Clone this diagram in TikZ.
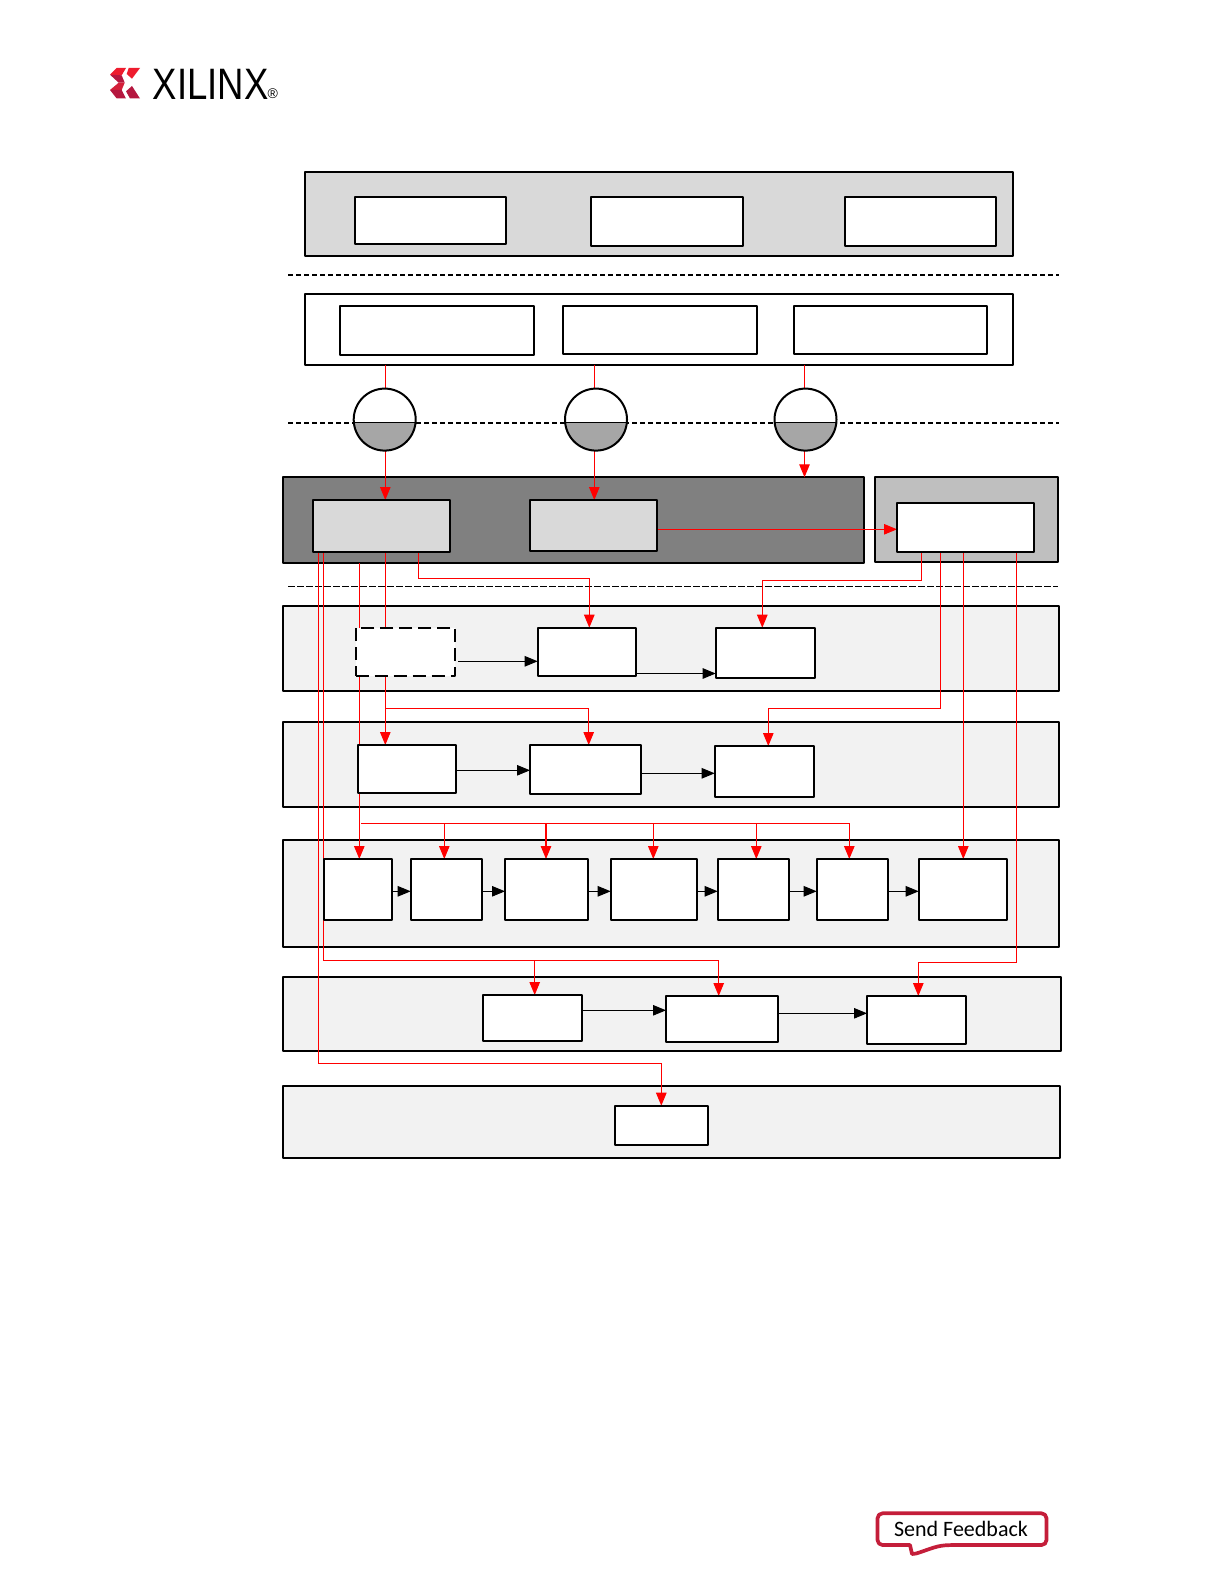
\documentclass[tikz,border=0pt]{standalone}
\usepackage{fontspec}
\usepackage{graphicx}
\setmainfont{Liberation Sans}
\newfontfamily\carlito{Carlito}
\usetikzlibrary{arrows.meta}
\pgfdeclarelayer{panels}
\pgfdeclarelayer{wires}
\pgfsetlayers{panels,wires,main}
\definecolor{panelgray}{HTML}{F2F2F2}
\definecolor{topgray}{HTML}{D9D9D9}
\definecolor{darkgray}{HTML}{808080}
\definecolor{midgray}{HTML}{BFBFBF}
\definecolor{halfgray}{HTML}{A6A6A6}
\definecolor{wirered}{HTML}{FF0000}
\definecolor{fbred}{HTML}{C41E3A}
\definecolor{logobright}{HTML}{EE1C2E}
\definecolor{logodark}{HTML}{B5173F}
\definecolor{logomid}{HTML}{D4203A}
\tikzset{
  x=1pt, y=-1pt,
  blk/.style={draw=black, line width=2pt, outer sep=0pt, inner sep=0pt, rectangle, line join=round},
  whitebox/.style={blk, fill=white},
  lightbox/.style={blk, fill=topgray},
  dashbox/.style={blk, fill=white, dash pattern=on 13pt off 6pt},
  panelbox/.style={blk, fill=panelgray},
  toppanel/.style={blk, fill=topgray},
  darkpanel/.style={blk, fill=darkgray},
  midpanel/.style={blk, fill=midgray},
  redwire/.style={draw=wirered, line width=1.05pt},
  redarrow/.style={redwire, -{Triangle[length=13pt,width=10.5pt]}},
  blkarrow/.style={draw=black, line width=1pt, -{Triangle[length=13pt,width=10.5pt]}},
  sepline/.style={draw=black, line width=1.8pt, dash pattern=on 5pt off 3pt},
  thinsep/.style={draw=black, line width=1.1pt, dash pattern=on 6.5pt off 2.5pt},
  halfcircle/.style={circle, draw=black, line width=2pt, fill=white, minimum size=62pt, inner sep=0pt, outer sep=0pt,
    path picture={
      \fill[halfgray] ([yshift=-2.7pt]path picture bounding box.west) rectangle ([yshift=-40pt]path picture bounding box.east);
      \draw[black, line width=1.2pt] ([yshift=-2.7pt]path picture bounding box.west) -- ([yshift=-2.7pt]path picture bounding box.east);
    }},
}
% style, name, x1, y1, x2, y2
\newcommand{\rbox}[6]{%
  \pgfmathsetmacro{\rbw}{#5-#3}\pgfmathsetmacro{\rbh}{#6-#4}%
  \pgfmathsetmacro{\rbx}{(#3+#5)/2}\pgfmathsetmacro{\rby}{(#4+#6)/2}%
  \node[#1, minimum width=\rbw pt, minimum height=\rbh pt] (#2) at (\rbx,\rby) {};}
\begin{document}
\begin{tikzpicture}
\useasboundingbox (0,0) rectangle (1224,1584);

% ---------- logo
\fill[logobright] (110,74.7) -- (116.7,68) -- (126,68) -- (121.7,75.3) -- cycle;
\fill[logodark] (110,74.7) -- (121.7,75.3) -- (124.7,82.7) -- (118.7,82.7) -- cycle;
\fill[logomid] (118.7,82.7) -- (124.7,82.7) -- (121.7,90) -- (110,90) -- cycle;
\fill[logodark] (110,90) -- (121.7,90) -- (126,98.5) -- (116.7,98.5) -- cycle;
\fill[logobright] (128.7,68) -- (140,68) -- (132,78.7) -- (126.7,74) -- cycle;
\fill[logodark] (132,86) -- (140,98.5) -- (130,98.5) -- (126,91.3) -- cycle;
\node[inner sep=0pt, anchor=west] (logotext) at (152.5,84.3)
  {\fontsize{44}{44}\selectfont\scalebox{.83}[1]{XILINX}};
\node[inner sep=0pt] (logoreg) at (272.7,94) {\fontsize{14}{14}\selectfont\textregistered};

% ---------- panels
\begin{pgfonlayer}{panels}
\coordinate (s1a) at (288,275); \coordinate (s1b) at (1058.5,275);
\draw[sepline] (s1a) -- (s1b);
\coordinate (s2a) at (288,422.7); \coordinate (s2b) at (1058.5,422.7);
\draw[sepline] (s2a) -- (s2b);
\coordinate (s3a) at (288,586.3); \coordinate (s3b) at (1058,586.3);
\draw[thinsep] (s3a) -- (s3b);
\rbox{toppanel}{P1}{304.6}{172}{1013}{256}
\rbox{whitebox}{P2}{304.6}{294}{1013}{364.7}
\rbox{darkpanel}{P3}{282.7}{477.3}{864}{563.3}
\rbox{midpanel}{P4}{875}{476.7}{1058.3}{561.7}
\rbox{panelbox}{P5}{282.7}{605.7}{1059}{691}
\rbox{panelbox}{P6}{282.7}{722}{1059}{807}
\rbox{panelbox}{P7}{282.7}{840}{1059}{946.7}
\rbox{panelbox}{P8}{282.7}{977}{1061.3}{1051}
\rbox{panelbox}{P9}{282.7}{1085.7}{1060}{1157.7}
\end{pgfonlayer}

% ---------- boxes
\rbox{whitebox}{a1}{355}{197}{506}{244}
\rbox{whitebox}{a2}{590.5}{197}{743}{246}
\rbox{whitebox}{a3}{845}{197}{996}{246}
\rbox{whitebox}{b1}{340}{305.7}{534}{355}
\rbox{whitebox}{b2}{563}{305.7}{757}{354}
\rbox{whitebox}{b3}{794}{305.7}{987}{354}
\node[halfcircle] (c1) at (384.7,419.6) {};
\node[halfcircle] (c2) at (596,419.6) {};
\node[halfcircle] (c3) at (805.5,419.6) {};
\rbox{lightbox}{A}{313}{500}{450}{551.7}
\rbox{lightbox}{B}{530}{500}{657}{551}
\rbox{whitebox}{C}{897}{503}{1034}{551.7}
\rbox{dashbox}{d1}{355.7}{627.7}{455}{675.7}
\rbox{whitebox}{d2}{537.7}{627.7}{636.3}{675.7}
\rbox{whitebox}{d3}{715.7}{627.7}{815.3}{678}
\rbox{whitebox}{e1}{357.7}{745}{456}{793}
\rbox{whitebox}{e2}{530}{745}{641.3}{794}
\rbox{whitebox}{e3}{714.7}{746}{814.3}{797}
\rbox{whitebox}{f1}{324.3}{859}{392}{920}
\rbox{whitebox}{f2}{410.7}{859}{482.3}{920}
\rbox{whitebox}{f3}{505}{859}{588}{920}
\rbox{whitebox}{f4}{610.7}{859}{697}{920}
\rbox{whitebox}{f5}{717.7}{859}{789}{920}
\rbox{whitebox}{f6}{816.7}{859}{888.3}{920}
\rbox{whitebox}{f7}{918.7}{859}{1007}{920}
\rbox{whitebox}{g1}{482.7}{995}{582}{1041}
\rbox{whitebox}{g2}{666}{996}{778}{1041.7}
\rbox{whitebox}{g3}{867}{996}{966}{1044}
\rbox{whitebox}{h1}{614.7}{1105.7}{708.3}{1145.3}

% ---------- connectors
\begin{pgfonlayer}{wires}
\foreach \cn/\cx in {x1/385.3,x2/594.3,x3/804.5,l1/318.7,l2/323.7,l3/359.3,l4/385.3,l5/418.3,t5/589.3,
  r1/921.3,r2/940.7,r3/963.3,r4/1016.7,q1/762.3,q2/768.3,q3/918.3,
  u1/588.7,v1/444.3,v2/546,v3/653.3,v4/756.3,v5/849.3,w1/534.7,w2/718.7,z1/661.3}{
  \coordinate (\cn) at (\cx,0);
}
\coordinate (k5) at (0,578.3);
\coordinate (k1) at (0,580.3);
\coordinate (k2) at (0,708.3);
\coordinate (k3) at (0,823.3);
\coordinate (k4) at (0,960.3);
\coordinate (k6) at (0,962.3);
\coordinate (k7) at (0,1063.3);
\coordinate (k8) at (361,823.3);

\draw[redwire] (P2.south -| x1) -- (c1.north -| x1);
\draw[redwire] (P2.south -| x2) -- (c2.north -| x2);
\draw[redwire] (P2.south -| x3) -- (c3.north -| x3);
\draw[redarrow] (c1.south -| x1) -- (A.north -| x1);
\draw[redarrow] (c2.south -| x2) -- (B.north -| x2);
\draw[redarrow] (c3.south -| x3) -- (P3.north -| x3);
\draw[redarrow] (B.east |- 0,529.3) -- (C.west |- 0,529.3);

\draw[redarrow] (A.south -| l1) -- (k7 -| l1) -- (k7 -| z1) -- (h1.north -| z1);
\draw[redarrow] (A.south -| l2) -- (k4 -| l2) -- (k4 -| w2) -- (g2.north -| w2);
\draw[redarrow] (k4 -| w1) -- (g1.north -| w1);
\draw[redarrow] (P3.south -| l3) -- (f1.north -| l3);
\draw[redwire] (k8) -- (k3 -| v5);
\draw[redarrow] (k3 -| v1) -- (f2.north -| v1);
\draw[redarrow] (k3 -| v2) -- (f3.north -| v2);
\draw[redarrow] (k3 -| v3) -- (f4.north -| v3);
\draw[redarrow] (k3 -| v4) -- (f5.north -| v4);
\draw[redarrow] (k3 -| v5) -- (f6.north -| v5);
\draw[redarrow] (A.south -| l4) -- (e1.north -| l4);
\draw[redarrow] (k2 -| l4) -- (k2 -| u1) -- (e2.north -| u1);
\draw[redarrow] (A.south -| l5) -- (k5 -| l5) -- (k5 -| t5) -- (d2.north -| t5);

\draw[redarrow] (C.south -| r1) -- (k1 -| r1) -- (k1 -| q1) -- (d3.north -| q1);
\draw[redarrow] (C.south -| r2) -- (k2 -| r2) -- (k2 -| q2) -- (e3.north -| q2);
\draw[redarrow] (C.south -| r3) -- (f7.north -| r3);
\draw[redarrow] (C.south -| r4) -- (k6 -| r4) -- (k6 -| q3) -- (g3.north -| q3);

\draw[blkarrow] (d1.east |- 0,661.3) ++(3,0) -- (d2.west |- 0,661.3);
\draw[blkarrow] (d2.east |- 0,673.5) -- (d3.west |- 0,673.5);
\draw[blkarrow] (e1.east |- 0,770.3) -- (e2.west |- 0,770.3);
\draw[blkarrow] (e2.east |- 0,773.3) -- (e3.west |- 0,773.3);
\draw[blkarrow] (f1.east |- 0,891.3) -- (f2.west |- 0,891.3);
\draw[blkarrow] (f2.east |- 0,891.3) -- (f3.west |- 0,891.3);
\draw[blkarrow] (f3.east |- 0,891.3) -- (f4.west |- 0,891.3);
\draw[blkarrow] (f4.east |- 0,891.3) -- (f5.west |- 0,891.3);
\draw[blkarrow] (f5.east |- 0,891.3) -- (f6.west |- 0,891.3);
\draw[blkarrow] (f6.east |- 0,891.3) -- (f7.west |- 0,891.3);
\draw[blkarrow] (g1.east |- 0,1010.3) -- (g2.west |- 0,1010.3);
\draw[blkarrow] (g2.east |- 0,1013.3) -- (g3.west |- 0,1013.3);
\end{pgfonlayer}

% ---------- feedback bubble
\draw[fbred, line width=3.7pt, line join=round, rounded corners=5pt]
  (877.5,1513.3) -- (1046.5,1513.3) -- (1046.5,1545) -- (950,1545)
  [sharp corners] .. controls (935,1546) and (925,1551) .. (916,1553.5) -- (912,1554) -- (910,1545)
  [rounded corners=5pt] -- (877.5,1545) -- cycle;
\node[inner sep=0pt] (fbtext) at (961,1529.3) {\carlito\fontsize{22}{22}\selectfont Send Feedback};
\end{tikzpicture}
\end{document}
